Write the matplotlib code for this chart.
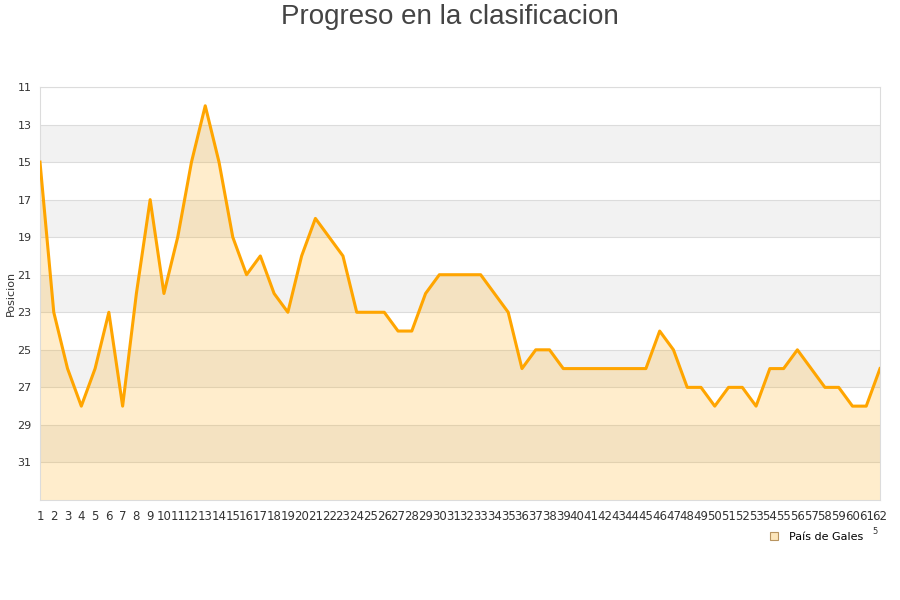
import matplotlib

matplotlib.use("Agg")
import matplotlib.pyplot as plt
from matplotlib.lines import Line2D

# jornadas 1..62 and league position after each one
jornadas = list(range(1, 63))
posicion = [
    15, 23, 26, 28, 26, 23, 28, 22, 17, 22,
    19, 15, 12, 15, 19, 21, 20, 22, 23, 20,
    18, 19, 20, 23, 23, 23, 24, 24, 22, 21,
    21, 21, 21, 22, 23, 26, 25, 25, 26, 26,
    26, 26, 26, 26, 26, 24, 25, 27, 27, 28,
    27, 27, 28, 26, 26, 25, 26, 27, 27, 28,
    28, 26,
]
y_ticks = list(range(11, 33, 2))
team = "País de Gales"

LINE = "#FFA500"
GRID = "#dcdcdc"
TEXT = "#333333"

fig = plt.figure(figsize=(9, 6), dpi=100)
ax = fig.add_axes([40 / 900, 100 / 600, 840 / 900, 413 / 600])

# alternating horizontal bands
for lo in range(13, 33, 4):
    ax.axhspan(lo, lo + 2, color="#f2f2f2", zorder=0, lw=0)
for t in y_ticks:
    ax.axhline(t, color=GRID, lw=0.8, zorder=1)

ax.fill_between(jornadas, posicion, 33, color=LINE, alpha=0.2, lw=0, zorder=2)
ax.plot(jornadas, posicion, color=LINE, lw=2.2, zorder=3)

ax.set_xlim(1, 62)
ax.set_ylim(33, 11)
ax.set_yticks(y_ticks)
ax.set_xticks(jornadas)
ax.tick_params(axis="x", length=0, labelsize=8.5, colors=TEXT, pad=7)
ax.tick_params(axis="y", length=0, labelsize=8, colors=TEXT, pad=6)
ax.set_ylabel("Posicion", fontsize=8, color=TEXT)
ax.yaxis.set_label_coords(-0.029, 0.5)
for side in ax.spines.values():
    side.set_color(GRID)
    side.set_linewidth(0.8)

fig.text(0.5, 0.972, "Progreso en la clasificacion", ha="center", va="center",
         fontsize=20, color="#444444", family="Liberation Sans")

handle = Line2D([], [], marker="s", linestyle="none", markersize=6,
                markerfacecolor="#fde6bb", markeredgecolor="#b89460",
                markeredgewidth=0.8)
fig.legend([handle], [team], loc="center left", bbox_to_anchor=(758 / 900, 1 - 537 / 600),
           frameon=False, fontsize=8, handletextpad=0.4, borderaxespad=0)
fig.text(875 / 900, 1 - 532 / 600, "5", fontsize=6, color=TEXT, ha="center", va="center")

fig.savefig("out.png", dpi=100)
